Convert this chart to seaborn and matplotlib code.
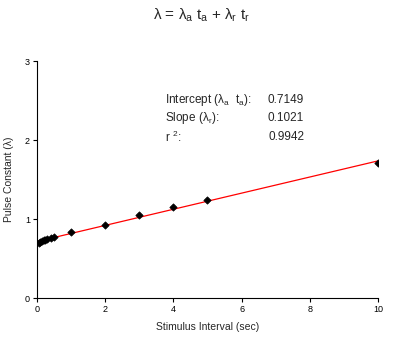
import matplotlib
matplotlib.use("Agg")
import matplotlib.pyplot as plt
import seaborn as sns
import numpy as np
import pandas as pd

# Stimulus interval (sec) and measured pulse constant
interval = [0.05, 0.1, 0.15, 0.2, 0.25, 0.3, 0.4, 0.5, 1, 2, 3, 4, 5, 10]
pulse_const = [0.70, 0.71, 0.72, 0.73, 0.735, 0.745, 0.76, 0.775,
               0.83, 0.93, 1.055, 1.155, 1.24, 1.71]

# Linear fit results
intercept = 0.7149
slope = 0.1021
r_squared = 0.9942

x_ticks = [0, 2, 4, 6, 8, 10]
y_ticks = [0, 1, 2, 3]

sns.set_theme(style="ticks")
plt.rcParams["font.family"] = ["Liberation Sans", "DejaVu Sans"]
plt.rcParams["mathtext.fontset"] = "custom"
plt.rcParams["mathtext.rm"] = "Liberation Sans"
plt.rcParams["mathtext.it"] = "Liberation Sans"

fig = plt.figure(figsize=(4.1, 3.4), dpi=100)
ax = fig.add_axes([0.090, 0.1235, 0.832, 0.697])

df = pd.DataFrame({"x": interval, "y": pulse_const})
fit_x = np.array([0, 10])
fit = pd.DataFrame({"x": fit_x, "y": intercept + slope * fit_x})

sns.lineplot(data=fit, x="x", y="y", ax=ax, color="red", linewidth=0.9)
sns.scatterplot(data=df, x="x", y="y", ax=ax, marker="D", s=14,
                color="black", edgecolor="black", linewidth=0.5, zorder=3)

ax.set_xlim(0, 10)
ax.set_ylim(0, 3)
ax.set_xticks(x_ticks)
ax.set_yticks(y_ticks)
ax.tick_params(axis="both", labelsize=6.5, length=3, width=0.8, pad=2, colors="black")
for s in ["top", "right"]:
    ax.spines[s].set_visible(False)
for s in ["left", "bottom"]:
    ax.spines[s].set_color("black")
    ax.spines[s].set_linewidth(0.8)

ax.set_xlabel("Stimulus Interval (sec)", fontsize=7.5, labelpad=6)
ax.set_ylabel("Pulse Constant (\u03bb)", fontsize=7.5, labelpad=8)

fig.text(0.492, 0.955, r"$\lambda$ = $\lambda_a$ t$_a$ + $\lambda_r$ t$_r$",
         ha="center", va="center", fontsize=11)

tx, vx = 0.402, 0.742
ty = [0.705, 0.652, 0.597]
labels = [r"Intercept ($\lambda_a$  t$_a$):", r"Slope ($\lambda_r$):", r"r $^2$:"]
vals = [f"{intercept:.4f}", f"{slope:.4f}", f"{r_squared:.4f}"]
for y, lab, v in zip(ty, labels, vals):
    fig.text(tx, y, lab, fontsize=8.5, va="center", ha="left")
    fig.text(vx, y, v, fontsize=8.5, va="center", ha="right")

fig.savefig("out.png", dpi=100, facecolor="white")
